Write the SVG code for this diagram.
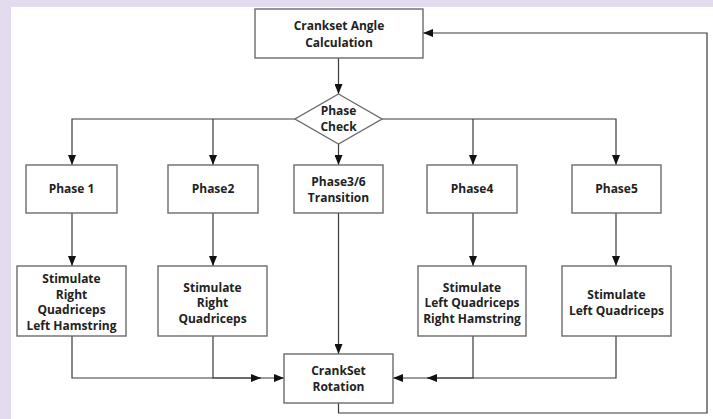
<svg xmlns="http://www.w3.org/2000/svg" width="713" height="419" viewBox="0 0 713 419">
  <style>
    .box { fill: #ffffff; stroke: #6b6b6b; stroke-width: 1.4; }
    .lbl { font-family: "Open Sans", "Liberation Sans", sans-serif; font-weight: 700; font-size: 12px; fill: #222222; text-anchor: middle; }
    .wire { fill: none; stroke: #3a3a3a; stroke-width: 1.2; }
  </style>
  <defs>
    <marker id="arrow" markerUnits="userSpaceOnUse" markerWidth="10" markerHeight="8" refX="10" refY="4" orient="auto">
      <path d="M0,0 L10,4 L0,8 z" fill="#111111"/>
    </marker>
  </defs>

  <!-- page background and panel -->
  <rect x="0" y="0" width="713" height="419" fill="#e3dbee"/>
  <rect x="11" y="7" width="702" height="412" fill="#ffffff"/>

  <!-- connectors -->
  <g id="connectors">
    <path class="wire" d="M338.5,58 V94" marker-end="url(#arrow)"/>
    <path class="wire" d="M295,119 H72 V165" marker-end="url(#arrow)"/>
    <path class="wire" d="M213,119 V165" marker-end="url(#arrow)"/>
    <path class="wire" d="M382,119 H616 V165" marker-end="url(#arrow)"/>
    <path class="wire" d="M473,119 V165" marker-end="url(#arrow)"/>
    <path class="wire" d="M338.5,144 V165" marker-end="url(#arrow)"/>

    <path class="wire" d="M72,213 V266" marker-end="url(#arrow)"/>
    <path class="wire" d="M213,213 V266" marker-end="url(#arrow)"/>
    <path class="wire" d="M473,213 V266" marker-end="url(#arrow)"/>
    <path class="wire" d="M616,213 V266" marker-end="url(#arrow)"/>
    <path class="wire" d="M338.5,213 V354" marker-end="url(#arrow)"/>

    <path class="wire" d="M213,336 V378 H284" marker-end="url(#arrow)"/>
    <path class="wire" d="M72,336 V378 H261" marker-end="url(#arrow)"/>
    <path class="wire" d="M473,336 V378 H393" marker-end="url(#arrow)"/>
    <path class="wire" d="M616,336 V378 H427" marker-end="url(#arrow)"/>

    <path class="wire" d="M338.5,403 V413 H707 V33 H423" marker-end="url(#arrow)"/>
  </g>

  <g id="angle-calc">
    <rect class="box" x="255" y="9" width="168" height="49"/>
    <text class="lbl" x="339" y="30">Crankset Angle</text>
    <text class="lbl" x="339" y="47">Calculation</text>
  </g>

  <g id="phase-check">
    <polygon class="box" points="338.5,94 382,119 338.5,144 295,119"/>
    <text class="lbl" x="338.5" y="115">Phase</text>
    <text class="lbl" x="338.5" y="131">Check</text>
  </g>

  <g id="phase1">
    <rect class="box" x="26" y="165" width="91" height="48"/>
    <text class="lbl" x="71.5" y="193">Phase 1</text>
  </g>
  <g id="phase2">
    <rect class="box" x="168" y="165" width="90" height="48"/>
    <text class="lbl" x="213" y="193">Phase2</text>
  </g>
  <g id="phase36">
    <rect class="box" x="294" y="165" width="89" height="48"/>
    <text class="lbl" x="338.5" y="186">Phase3/6</text>
    <text class="lbl" x="338.5" y="202">Transition</text>
  </g>
  <g id="phase4">
    <rect class="box" x="427" y="165" width="90" height="48"/>
    <text class="lbl" x="472" y="193">Phase4</text>
  </g>
  <g id="phase5">
    <rect class="box" x="572" y="165" width="89" height="48"/>
    <text class="lbl" x="616.5" y="193">Phase5</text>
  </g>

  <g id="stim1">
    <rect class="box" x="17" y="266" width="109" height="70"/>
    <text class="lbl" x="71.5" y="283">Stimulate</text>
    <text class="lbl" x="71.5" y="298.5">Right</text>
    <text class="lbl" x="71.5" y="314">Quadriceps</text>
    <text class="lbl" x="71.5" y="329.5">Left Hamstring</text>
  </g>
  <g id="stim2">
    <rect class="box" x="158" y="266" width="109" height="70"/>
    <text class="lbl" x="212.5" y="291.5">Stimulate</text>
    <text class="lbl" x="212.5" y="307">Right</text>
    <text class="lbl" x="212.5" y="322.5">Quadriceps</text>
  </g>
  <g id="stim4">
    <rect class="box" x="418" y="266" width="108" height="70"/>
    <text class="lbl" x="472" y="291.5">Stimulate</text>
    <text class="lbl" x="472" y="307">Left Quadriceps</text>
    <text class="lbl" x="472" y="322.5">Right Hamstring</text>
  </g>
  <g id="stim5">
    <rect class="box" x="562" y="266" width="109" height="70"/>
    <text class="lbl" x="616.5" y="299">Stimulate</text>
    <text class="lbl" x="616.5" y="314.5">Left Quadriceps</text>
  </g>

  <g id="crankset-rotation">
    <rect class="box" x="284" y="354" width="109" height="49"/>
    <text class="lbl" x="338.5" y="374.5">CrankSet</text>
    <text class="lbl" x="338.5" y="391">Rotation</text>
  </g>
</svg>
